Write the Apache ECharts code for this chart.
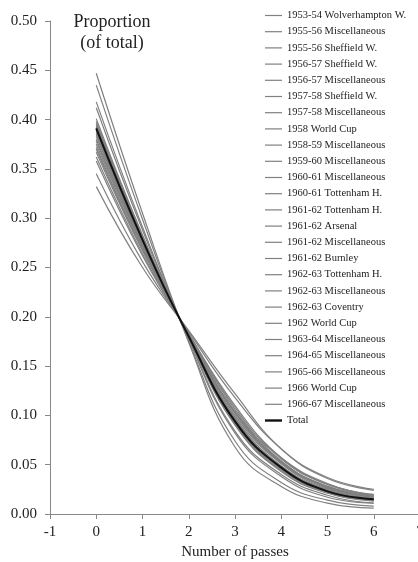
<!DOCTYPE html>
<html>
<head>
<meta charset="utf-8">
<script src="https://cdn.jsdelivr.net/npm/echarts@6/dist/echarts.min.js"></script>
<style>
html,body{margin:0;padding:0;background:#fff;}
#chart{width:418px;height:562px;}
</style>
</head>
<body>
<div id="chart"></div>
<script>
const passes = [0, 1, 2, 3, 4, 5, 6];
const yTicks = [0, 0.05, 0.10, 0.15, 0.20, 0.25, 0.30, 0.35, 0.40, 0.45, 0.50];
const xTicks = [-1, 0, 1, 2, 3, 4, 5, 6, 7];

const s01 = [0.372, 0.269, 0.182, 0.103, 0.053, 0.027, 0.018];
const s02 = [0.389, 0.277, 0.180, 0.095, 0.047, 0.024, 0.015];
const s03 = [0.418, 0.291, 0.177, 0.082, 0.038, 0.017, 0.011];
const s04 = [0.396, 0.281, 0.179, 0.092, 0.045, 0.022, 0.014];
const s05 = [0.380, 0.273, 0.181, 0.103, 0.057, 0.031, 0.019];
const s06 = [0.435, 0.299, 0.175, 0.074, 0.032, 0.014, 0.008];
const s07 = [0.367, 0.267, 0.182, 0.106, 0.054, 0.028, 0.019];
const s08 = [0.332, 0.250, 0.186, 0.122, 0.066, 0.036, 0.024];
const s09 = [0.391, 0.278, 0.180, 0.094, 0.047, 0.023, 0.015];
const s10 = [0.385, 0.275, 0.180, 0.097, 0.048, 0.024, 0.016];
const s11 = [0.398, 0.282, 0.179, 0.091, 0.044, 0.022, 0.014];
const s12 = [0.447, 0.305, 0.174, 0.068, 0.028, 0.011, 0.006];
const s13 = [0.401, 0.283, 0.179, 0.090, 0.043, 0.021, 0.013];
const s14 = [0.370, 0.268, 0.182, 0.104, 0.053, 0.028, 0.018];
const s15 = [0.393, 0.279, 0.180, 0.093, 0.046, 0.023, 0.014];
const s16 = [0.412, 0.288, 0.178, 0.084, 0.040, 0.019, 0.011];
const s17 = [0.378, 0.272, 0.181, 0.100, 0.051, 0.026, 0.017];
const s18 = [0.387, 0.276, 0.180, 0.096, 0.048, 0.024, 0.015];
const s19 = [0.362, 0.264, 0.183, 0.108, 0.056, 0.030, 0.019];
const s20 = [0.345, 0.256, 0.185, 0.118, 0.066, 0.037, 0.025];
const s21 = [0.383, 0.274, 0.181, 0.098, 0.049, 0.025, 0.016];
const s22 = [0.394, 0.280, 0.180, 0.093, 0.046, 0.023, 0.014];
const s23 = [0.375, 0.271, 0.182, 0.102, 0.052, 0.027, 0.017];
const s24 = [0.358, 0.262, 0.183, 0.110, 0.057, 0.030, 0.020];
const s25 = [0.390, 0.277, 0.180, 0.095, 0.047, 0.024, 0.015];
const total = [0.391, 0.278, 0.180, 0.094, 0.047, 0.023, 0.015];

const seriesNames = [
  '1953-54 Wolverhampton W.', '1955-56 Miscellaneous', '1955-56 Sheffield W.',
  '1956-57 Sheffield W.', '1956-57 Miscellaneous', '1957-58 Sheffield W.',
  '1957-58 Miscellaneous', '1958 World Cup', '1958-59 Miscellaneous',
  '1959-60 Miscellaneous', '1960-61 Miscellaneous', '1960-61 Tottenham H.',
  '1961-62 Tottenham H.', '1961-62 Arsenal', '1961-62 Miscellaneous',
  '1961-62 Burnley', '1962-63 Tottenham H.', '1962-63 Miscellaneous',
  '1962-63 Coventry', '1962 World Cup', '1963-64 Miscellaneous',
  '1964-65 Miscellaneous', '1965-66 Miscellaneous', '1966 World Cup',
  '1966-67 Miscellaneous'
];
const seriesValues = [s01, s02, s03, s04, s05, s06, s07, s08, s09, s10, s11, s12, s13,
  s14, s15, s16, s17, s18, s19, s20, s21, s22, s23, s24, s25];
const totalName = 'Total';

const serif = 'Liberation Serif';
const grayLine = '#808080';
const chart = echarts.init(document.getElementById('chart'), null, {renderer: 'canvas'});

const series = seriesNames.map((name, i) => ({
  name: name,
  type: 'line',
  data: passes.map((p, j) => [p, seriesValues[i][j]]),
  smooth: 0.45,
  symbol: 'none',
  silent: true,
  lineStyle: {color: grayLine, width: 1.2},
  itemStyle: {color: grayLine},
  z: 2
}));
series.push({
  name: totalName,
  type: 'line',
  data: passes.map((p, j) => [p, total[j]]),
  smooth: 0.45,
  symbol: 'none',
  silent: true,
  lineStyle: {color: '#111', width: 2},
  itemStyle: {color: '#111'},
  z: 3
});

const legendData = seriesNames.map(n => ({name: n, icon: 'path://M0,0H17V1.2H0Z'}))
  .concat([{name: totalName, icon: 'path://M0,0H17V2.4H0Z'}]);

chart.setOption({
  animation: false,
  backgroundColor: '#fff',
  title: {
    text: 'Proportion\n(of total)',
    left: 112,
    top: 12,
    textAlign: 'center',
    padding: 0,
    textStyle: {fontFamily: serif, fontSize: 18, fontWeight: 'normal', color: '#222', lineHeight: 21}
  },
  legend: {
    orient: 'vertical',
    left: 265,
    top: 10,
    padding: 0,
    itemWidth: 17,
    itemHeight: 11,
    itemGap: 5.2,
    selectedMode: false,
    data: legendData,
    textStyle: {fontFamily: serif, fontSize: 10.5, color: '#222', lineHeight: 11}
  },
  grid: {left: 50, top: 21, width: 370, height: 493, containLabel: false, outerBoundsMode: 'none'},
  xAxis: {
    type: 'value',
    min: xTicks[0],
    max: xTicks[xTicks.length - 1],
    interval: 1,
    name: 'Number of passes',
    nameLocation: 'middle',
    nameGap: 27,
    nameTextStyle: {fontFamily: serif, fontSize: 15, color: '#222'},
    axisLine: {show: true, onZero: false, lineStyle: {color: '#888', width: 1}},
    axisTick: {show: true, inside: false, length: 5, lineStyle: {color: '#888'}},
    axisLabel: {fontFamily: serif, fontSize: 15, color: '#222', margin: 11, showMaxLabel: true, showMinLabel: true},
    splitLine: {show: false}
  },
  yAxis: {
    type: 'value',
    min: yTicks[0],
    max: yTicks[yTicks.length - 1],
    interval: 0.05,
    axisLine: {show: true, onZero: false, lineStyle: {color: '#888', width: 1}},
    axisTick: {show: true, inside: false, length: 5, lineStyle: {color: '#888'}},
    axisLabel: {fontFamily: serif, fontSize: 15, color: '#222', margin: 13, formatter: v => v.toFixed(2)},
    splitLine: {show: false}
  },
  series: series
});
</script>
</body>
</html>
